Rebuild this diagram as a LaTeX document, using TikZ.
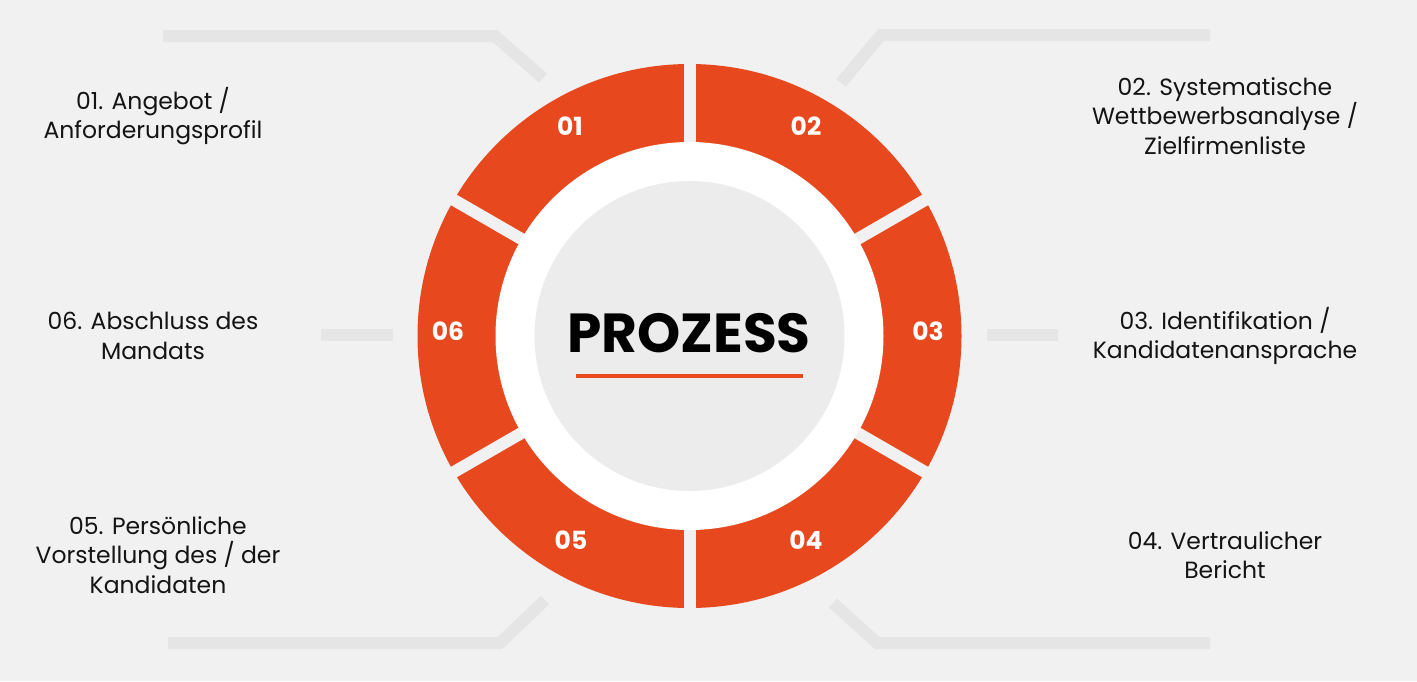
\documentclass[tikz,border=0pt]{standalone}
\usepackage{fontspec}
\setmainfont{Poppins}
\usetikzlibrary{positioning}
\definecolor{backColor}{RGB}{241,241,241}
\definecolor{ringColor}{RGB}{232,72,30}
\definecolor{innerColor}{RGB}{236,236,236}
\definecolor{lineColor}{RGB}{229,229,229}
\tikzstyle{canvas} = [x = 1pt, y = -1pt]
\tikzstyle{decoLine} = [color=lineColor, line width=12pt]
\tikzstyle{gapLine} = [color=backColor, line width=12pt]
\tikzstyle{underLine} = [color=ringColor, line width=4pt]
\tikzstyle{stepNumber} = [text=white, font=\fontsize{25}{25}\selectfont\bfseries]
\tikzstyle{stepLabel} = [align=center, text=black!92, font=\fontsize{23.5}{29.5}\selectfont]
\tikzstyle{titleText} = [text=black, font=\fontsize{55}{55}\selectfont\bfseries]
\newcommand{\outerRadius}{272pt}
\newcommand{\innerRadius}{194pt}
\newcommand{\coreRadius}{155pt}
\newcommand{\ringGaps}{
  \foreach \angle in {30, 90, 150} {
    \draw [gapLine] (ring) ++(\angle:280pt) -- ++(\angle + 180:560pt);
  }
}
\begin{document}
\begin{tikzpicture}[canvas]
  \fill [backColor] (0, 0) rectangle (1417, 681);
  \useasboundingbox (0, 0) rectangle (1417, 681);
  % decorative lines
  \draw [decoLine] (163, 36) -- (495, 36) -- (543, 78);
  \draw [decoLine] (1210, 35) -- (881, 35) -- (841, 83);
  \draw [decoLine] (833, 603) -- (877, 643) -- (1210, 643);
  \draw [decoLine] (545, 600) -- (500, 643) -- (168, 643);
  \draw [decoLine] (321, 335) -- (393, 335);
  \draw [decoLine] (987, 335) -- (1058, 335);
  % ring
  \coordinate (ring) at (689.5, 336);
  \fill [ringColor] (ring) circle (\outerRadius);
  \ringGaps
  \fill [white] (ring) circle (\innerRadius);
  \fill [innerColor] (ring) circle (\coreRadius);
  \node [titleText] (title) at (689, 333) {PROZESS};
  \draw [underLine] (576, 376) -- (803, 376);
  % step numbers
  \node [stepNumber] (n01) at (570, 126) {01};
  \node [stepNumber] (n02) at (806, 126) {02};
  \node [stepNumber] (n03) at (928, 331) {03};
  \node [stepNumber] (n04) at (806, 540) {04};
  \node [stepNumber] (n05) at (571, 540) {05};
  \node [stepNumber] (n06) at (448, 331) {06};
  % step labels
  \node [stepLabel] (l01) at (153, 116) {01. Angebot /\\Anforderungsprofil};
  \node [stepLabel] (l02) at (1225, 116) {02. Systematische\\Wettbewerbsanalyse /\\Zielfirmenliste};
  \node [stepLabel] (l03) at (1225, 336) {03. Identifikation /\\Kandidatenansprache};
  \node [stepLabel] (l04) at (1225, 555) {04. Vertraulicher\\Bericht};
  \node [stepLabel] (l05) at (158, 555) {05. Persönliche\\Vorstellung des / der\\Kandidaten};
  \node [stepLabel] (l06) at (153, 336) {06. Abschluss des\\Mandats};
\end{tikzpicture}
\end{document}
